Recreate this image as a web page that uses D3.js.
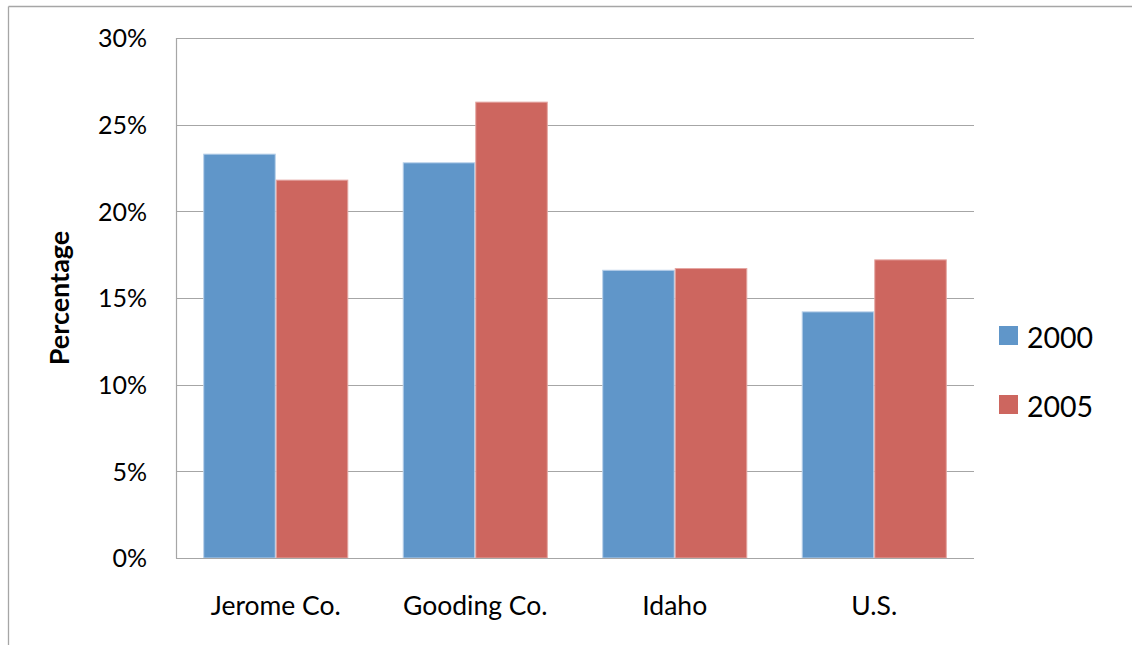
<!DOCTYPE html>
<html>
<head>
<meta charset="utf-8">
<script src="https://cdn.jsdelivr.net/npm/d3@7"></script>
<style>
  html, body { margin: 0; padding: 0; background: #fff; overflow: hidden; }
  svg { display: block; }
  text { font-family: Lato, "Open Sans", sans-serif; fill: #000; }
</style>
</head>
<body>
<svg id="chart" width="1132" height="645"></svg>
<script>
// Share of population by area, 2000 vs 2005
const categories = ["Jerome Co.", "Gooding Co.", "Idaho", "U.S."];
const seriesNames = ["2000", "2005"];
const values2000 = [23.3, 22.8, 16.6, 14.2];
const values2005 = [21.8, 26.3, 16.7, 17.2];
const yTicks = [0, 5, 10, 15, 20, 25, 30];
const seriesColors = ["#6096C9", "#CD665F"];
const seriesEdges = ["#B9D1EA", "#E5A6A2"];

const width = 1132, height = 645;
const plot = { left: 176, right: 974, top: 38, bottom: 558 };

const svg = d3.select("#chart");

// outer chart frame: only its top and left edges fall inside the canvas
svg.append("line")
  .attr("x1", 8.5).attr("x2", width).attr("y1", 6.5).attr("y2", 6.5)
  .attr("stroke", "#A6A6A6").attr("stroke-width", 1.3);
svg.append("line")
  .attr("x1", 8.5).attr("x2", 8.5).attr("y1", 6.5).attr("y2", height)
  .attr("stroke", "#A6A6A6").attr("stroke-width", 1.3);

const y = d3.scaleLinear().domain([0, 30]).range([plot.bottom, plot.top]);
const x0 = d3.scaleBand().domain(categories).range([plot.left, plot.right]).padding(0);
const x1 = d3.scaleBand().domain(seriesNames).range([0, x0.bandwidth()])
  .paddingInner(0).paddingOuter(0.375);

// gridlines
svg.append("g")
  .selectAll("line")
  .data(yTicks.filter(t => t > 0))
  .join("line")
  .attr("x1", plot.left).attr("x2", plot.right)
  .attr("y1", d => Math.round(y(d)) + 0.5).attr("y2", d => Math.round(y(d)) + 0.5)
  .attr("stroke", "#A6A6A6").attr("stroke-width", 1.2);

// bars
const rows = categories.map((c, i) => ({ cat: c, vals: [values2000[i], values2005[i]] }));
const groups = svg.append("g").selectAll("g")
  .data(rows)
  .join("g")
  .attr("transform", d => `translate(${x0(d.cat)},0)`);

groups.selectAll("rect")
  .data(d => d.vals.map((v, j) => ({ series: seriesNames[j], v, j })))
  .join("rect")
  .attr("x", d => x1(d.series) + 0.5)
  .attr("y", d => y(d.v))
  .attr("width", x1.bandwidth() - 1)
  .attr("height", d => y(0) - y(d.v))
  .attr("fill", d => seriesColors[d.j])
  .attr("stroke", d => seriesEdges[d.j])
  .attr("stroke-width", 1);

// axis lines
svg.append("line")
  .attr("x1", plot.left + 0.5).attr("x2", plot.left + 0.5)
  .attr("y1", plot.top).attr("y2", plot.bottom + 0.5)
  .attr("stroke", "#A6A6A6").attr("stroke-width", 1.2);
svg.append("line")
  .attr("x1", plot.left).attr("x2", plot.right)
  .attr("y1", plot.bottom + 0.5).attr("y2", plot.bottom + 0.5)
  .attr("stroke", "#A6A6A6").attr("stroke-width", 1.2);

// y tick labels
svg.append("g")
  .selectAll("text")
  .data(yTicks)
  .join("text")
  .attr("x", 147)
  .attr("y", d => y(d) + 3)
  .attr("text-anchor", "end")
  .attr("dominant-baseline", "middle")
  .attr("font-size", 25)
  .text(d => d + "%");

// x category labels
svg.append("g")
  .selectAll("text")
  .data(categories)
  .join("text")
  .attr("x", d => x0(d) + x0.bandwidth() / 2)
  .attr("y", 615)
  .attr("text-anchor", "middle")
  .attr("font-size", 26.5)
  .text(d => d);

// y axis title
svg.append("text")
  .attr("transform", "translate(69,298) rotate(-90)")
  .attr("text-anchor", "middle")
  .attr("font-size", 27)
  .attr("font-weight", "bold")
  .text("Percentage");

// legend
const legend = svg.append("g").selectAll("g")
  .data(seriesNames)
  .join("g")
  .attr("transform", (d, i) => `translate(999,${326 + i * 69})`);
legend.append("rect")
  .attr("width", 19).attr("height", 19)
  .attr("fill", (d, i) => seriesColors[i]);
legend.append("text")
  .attr("x", 28).attr("y", 22)
  .attr("font-size", 28.5)
  .text(d => d);
</script>
</body>
</html>
